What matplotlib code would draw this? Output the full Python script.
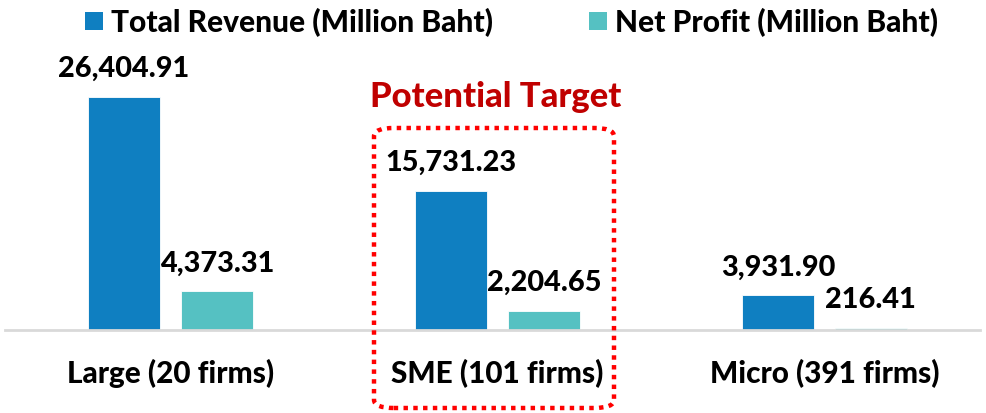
import matplotlib
matplotlib.use("Agg")
import matplotlib.pyplot as plt
from matplotlib.patches import FancyBboxPatch, Patch
import numpy as np

categories = ["Large (20 firms)", "SME (101 firms)", "Micro (391 firms)"]
revenue = [26404.91, 15731.23, 3931.90]
profit = [4373.31, 2204.65, 216.41]
series_names = ["Total Revenue (Million Baht)", "Net Profit (Million Baht)"]

plt.rcParams['font.family'] = ['Lato', 'DejaVu Sans']
WT = 900

W, H = 986, 414
fig = plt.figure(figsize=(W / 100, H / 100), dpi=100)

ax_left, ax_right = 5, 980
ax_bottom, ax_top = 331, 40
ax = fig.add_axes([ax_left / W, (H - ax_bottom) / H, (ax_right - ax_left) / W, (ax_bottom - ax_top) / H])

unit = 327.0
x = np.arange(len(categories))
bw = 0.22
off = 0.142
c_rev = "#0F7FC1"
c_pro = "#55C1C2"

b1 = ax.bar(x - off, revenue, bw, color=c_rev, edgecolor="white", linewidth=0.6, zorder=2)
b2 = ax.bar(x + off, profit, bw, color=c_pro, edgecolor="white", linewidth=0.6, zorder=2)

px_per_val = 0.00883
ax.set_ylim(0, (ax_bottom - ax_top) / px_per_val)
ax.set_xlim(-0.5 - (170.5 - 163.5 - ax_left) / unit, 2.5 - (988 - ax_right) / unit)

for rects, vals in ((b1, revenue), (b2, profit)):
    for r, v in zip(rects, vals):
        ax.annotate(f"{v:,.2f}", (r.get_x() + r.get_width() / 2, r.get_height()),
                    xytext=(0, 11.5), textcoords="offset points", ha="center", va="bottom",
                    fontsize=20.8, fontweight=WT, color="black", zorder=3)

for s in ["top", "right", "left"]:
    ax.spines[s].set_visible(False)
ax.spines["bottom"].set_color("#D9D9D9")
ax.spines["bottom"].set_linewidth(2)
ax.set_yticks([])
ax.set_xticks(x)
ax.set_xticklabels(categories, fontsize=21.4, fontweight=WT)
ax.tick_params(axis="x", length=0, pad=20)

handles = [Patch(facecolor=c_rev, edgecolor="none"), Patch(facecolor=c_pro, edgecolor="none")]
fig.legend(handles, series_names, loc="center", bbox_to_anchor=(511.5 / W, 1 - 23 / H), ncol=2,
           frameon=False, prop={"weight": WT, "size": 21.5},
           handlelength=0.6, handleheight=0.6, handletextpad=0.27, columnspacing=3.2,
           borderpad=0, borderaxespad=0)

fig.text(496 / W, 1 - 97 / H, "Potential Target", ha="center", va="center",
         fontsize=24.9, fontweight=WT, color="#C00000")

box = FancyBboxPatch((374 / W, 1 - 409 / H), (614 - 374) / W, (409 - 129) / H,
                     boxstyle="round,pad=0,rounding_size=0.02", transform=fig.transFigure,
                     fill=False, edgecolor="#FF0000", linewidth=3.2, linestyle=(0, (1, 1.2)),
                     zorder=5)
fig.patches.append(box)

fig.savefig("out.png", dpi=100)
